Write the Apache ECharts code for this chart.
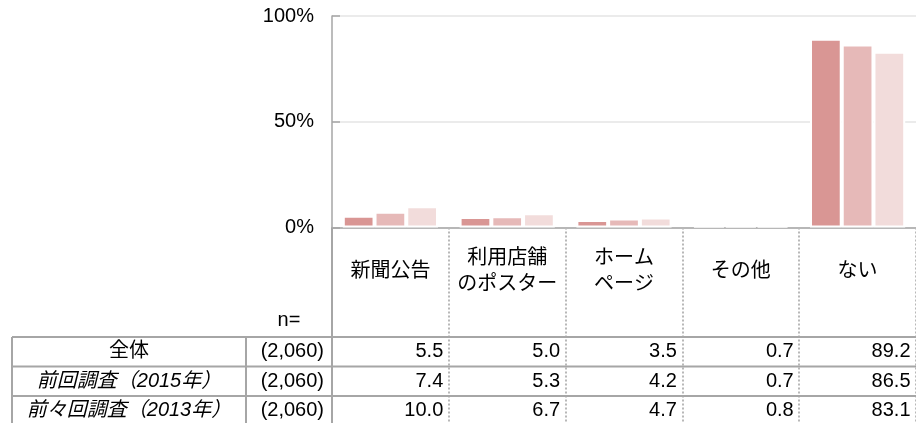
<!DOCTYPE html>
<html>
<head>
<meta charset="utf-8">
<script src="https://cdn.jsdelivr.net/npm/echarts@6/dist/echarts.min.js"></script>
<style>html,body{margin:0;padding:0;background:#fff}#c{width:916px;height:423px}</style>
</head>
<body>
<div id="c"></div>
<script>
// ---- data ----
const categories = ['新聞公告', '利用店舗\nのポスター', 'ホーム\nページ', 'その他', 'ない'];
const seriesNames = ['全体', '前回調査（2015年）', '前々回調査（2013年）'];
const sampleSizes = ['(2,060)', '(2,060)', '(2,060)'];
const totalValues = [5.5, 5.0, 3.5, 0.7, 89.2];
const survey2015Values = [7.4, 5.3, 4.2, 0.7, 86.5];
const survey2013Values = [10.0, 6.7, 4.7, 0.8, 83.1];
const yTickValues = [0, 50, 100];

// ---- styling / layout ----
const FONT = '"Liberation Sans", "Noto Sans CJK JP", sans-serif';
const colors = ['#d99694', '#e6b9b8', '#f2dcdb'];
const italicRows = [false, true, true];
const rowValues = [totalValues, survey2015Values, survey2013Values];

const plotLeft = 332, plotTop = 16, plotH = 211.5, colW = 117.8;
const plotW = colW * categories.length;
const plotBottom = plotTop + plotH;
const tableLeft = 12, nColLeft = 246, tableTop = 337, rowH = 29.5;
const tableRight = plotLeft + plotW;
const lineColor = '#a6a6a6';

const chart = echarts.init(document.getElementById('c'), null, {renderer: 'canvas'});

const rowAxes = rowValues.map((vals, r) => ({
  type: 'category', data: categories, gridIndex: 0, position: 'bottom',
  offset: tableTop + rowH * (r + 0.5) - plotBottom,
  axisLine: {show: false}, axisTick: {show: false}, splitLine: {show: false},
  axisLabel: {
    interval: 0, margin: 0, verticalAlign: 'middle',
    formatter: (v, idx) => '{v|' + vals[idx].toFixed(1) + '}',
    rich: {v: {width: colW - 12, align: 'right', fontSize: 20, fontFamily: FONT, color: '#000'}}
  }
}));

const graphics = [];
for (let i = 0; i <= 3; i++) {
  const y = tableTop + i * rowH;
  graphics.push({type: 'line', z: 10, shape: {x1: tableLeft, y1: y, x2: tableRight, y2: y},
    style: {stroke: lineColor, lineWidth: 2}});
}
graphics.push({type: 'line', z: 10, shape: {x1: tableLeft, y1: tableTop, x2: tableLeft, y2: 430}, style: {stroke: lineColor, lineWidth: 2}});
graphics.push({type: 'line', z: 10, shape: {x1: nColLeft, y1: tableTop, x2: nColLeft, y2: 430}, style: {stroke: lineColor, lineWidth: 2}});
graphics.push({type: 'line', z: 10, shape: {x1: plotLeft, y1: plotBottom, x2: plotLeft, y2: 430}, style: {stroke: lineColor, lineWidth: 2}});
graphics.push({type: 'text', z: 10, x: (nColLeft + plotLeft) / 2, y: 320,
  style: {text: 'n=', fontSize: 20, fontFamily: FONT, fill: '#000', align: 'center', verticalAlign: 'middle'}});
seriesNames.forEach((name, r) => {
  const cy = tableTop + rowH * (r + 0.5);
  graphics.push({type: 'text', z: 10, x: (tableLeft + nColLeft) / 2, y: cy,
    style: {text: name, fontSize: 20, fontFamily: FONT, fontStyle: italicRows[r] ? 'italic' : 'normal',
      fill: '#000', align: 'center', verticalAlign: 'middle'}});
  graphics.push({type: 'text', z: 10, x: plotLeft - 8, y: cy,
    style: {text: sampleSizes[r], fontSize: 20, fontFamily: FONT, fill: '#000', align: 'right', verticalAlign: 'middle'}});
});

const option = {
  animation: false,
  grid: {left: plotLeft, top: plotTop, width: plotW, height: plotH, containLabel: false},
  xAxis: [{
    type: 'category', data: categories, gridIndex: 0, position: 'bottom',
    axisLine: {show: true, lineStyle: {color: lineColor, width: 1.5}},
    axisTick: {show: true, length: 200, lineStyle: {color: '#b8b8b8', type: 'dotted', width: 2}},
    axisLabel: {interval: 0, margin: 43.5, verticalAlign: 'middle', fontSize: 20, lineHeight: 26,
      fontFamily: FONT, color: '#000'},
    splitLine: {show: false}
  }].concat(rowAxes),
  yAxis: {
    type: 'value', min: yTickValues[0], max: yTickValues[yTickValues.length - 1],
    interval: yTickValues[1] - yTickValues[0],
    axisLine: {show: true, lineStyle: {color: lineColor, width: 1.5}},
    axisTick: {show: true, inside: true, length: 8, lineStyle: {color: lineColor, width: 1.5}},
    axisLabel: {formatter: '{value}%', fontSize: 20, margin: 18, fontFamily: FONT, color: '#000'},
    splitLine: {show: true, lineStyle: {color: '#e4e4e4', width: 1.5}}
  },
  series: rowValues.map((vals, r) => ({
    name: seriesNames[r], type: 'bar', xAxisIndex: 0, yAxisIndex: 0, data: vals,
    barGap: '0%', barCategoryGap: '18.5%',
    itemStyle: {color: colors[r], borderColor: '#fff', borderWidth: 2}
  })),
  graphic: graphics
};
chart.setOption(option);
</script>
</body>
</html>
